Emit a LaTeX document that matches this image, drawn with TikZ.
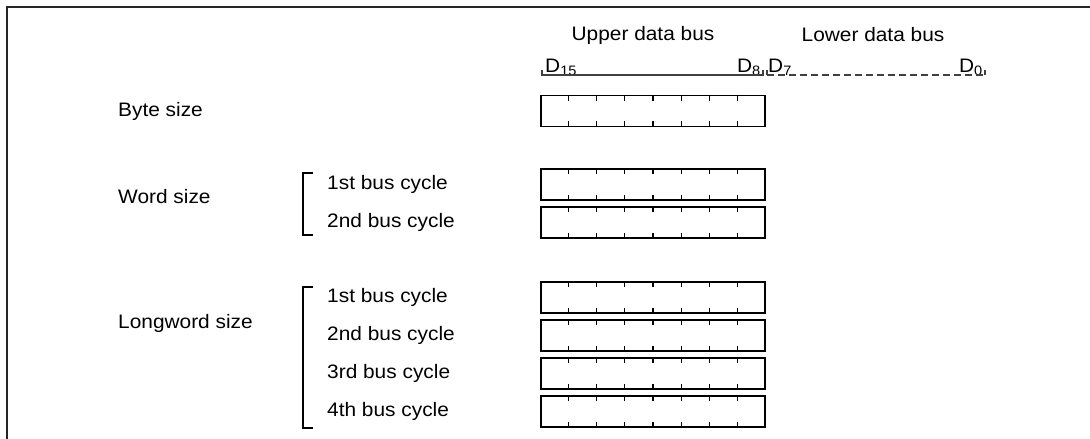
\documentclass[tikz,border=0pt]{standalone}
\usepackage{fontspec}
\setmainfont{Liberation Sans}
\usetikzlibrary{calc}

\begin{document}
\begin{tikzpicture}[
  x=1pt, y=-1pt,
  txt/.style={font=\fontsize{19.5}{22}\selectfont, xscale=1.07, inner sep=0pt, anchor=west},
  regbox/.style={draw, line width=1.2pt, minimum width=224pt, minimum height=31pt, inner sep=0pt},
  celltick/.style={line width=1.1pt},
  busline/.style={line width=1.1pt, black!75}
]
  \useasboundingbox (0,0) rectangle (1090,439);
  \draw[line width=2pt, black!85] (7,439) -- (7,7) -- (1090,7);

  \node[txt, anchor=center] (upper) at (643,35) {Upper data bus};
  \node[txt, anchor=center] (lower) at (873,35) {Lower data bus};
  \node[txt, anchor=base west] (d15) at (545,72) {D\textsubscript{15}};
  \node[txt, anchor=base east] (d8) at (761,72) {D\textsubscript{8}};
  \node[txt, anchor=base west] (d7) at (768,72) {D\textsubscript{7}};
  \node[txt, anchor=base east] (d0) at (983,72) {D\textsubscript{0}};
  \draw[busline] (542,70) |- (763,75) -- (763,70);
  \draw[busline] (767,70) -- (767,75);
  \draw[busline, dash pattern=on 7pt off 4pt] (767,75) -- (985,75);
  \draw[busline] (985,75) -- (985,70);

  \node[txt] (byte) at (118,111) {Byte size};
  \node[txt] (word) at (118,197) {Word size};
  \node[txt] (long) at (118,323) {Longword size};

  \node[txt] (w1) at (327,184.5) {1st bus cycle};
  \node[txt] (w2) at (327,222.5) {2nd bus cycle};
  \node[txt] (l1) at (327,297.5) {1st bus cycle};
  \node[txt] (l2) at (327,335.5) {2nd bus cycle};
  \node[txt] (l3) at (327,373.5) {3rd bus cycle};
  \node[txt] (l4) at (327,411.5) {4th bus cycle};
  \draw[line width=1.1pt] (313,173) -| (303,235) -- (313,235);
  \draw[line width=1.1pt] (313,287) -| (303,428) -- (313,428);

  \node[regbox] (bytebox) at (653,111) {};
  \node[regbox] (wordbox1) at (653,184.5) {};
  \node[regbox] (wordbox2) at (653,222.5) {};
  \node[regbox] (longbox1) at (653,297.5) {};
  \node[regbox] (longbox2) at (653,335.5) {};
  \node[regbox] (longbox3) at (653,373.5) {};
  \node[regbox] (longbox4) at (653,411.5) {};
  \foreach \b in {bytebox,wordbox1,wordbox2,longbox1,longbox2,longbox3,longbox4}
    \foreach \i in {1,...,7} {
      \draw[celltick] ($(\b.north west)!\i/8!(\b.north east)$) -- ++(0,6);
      \draw[celltick] ($(\b.south west)!\i/8!(\b.south east)$) -- ++(0,-6);
    }
\end{tikzpicture}
\end{document}
